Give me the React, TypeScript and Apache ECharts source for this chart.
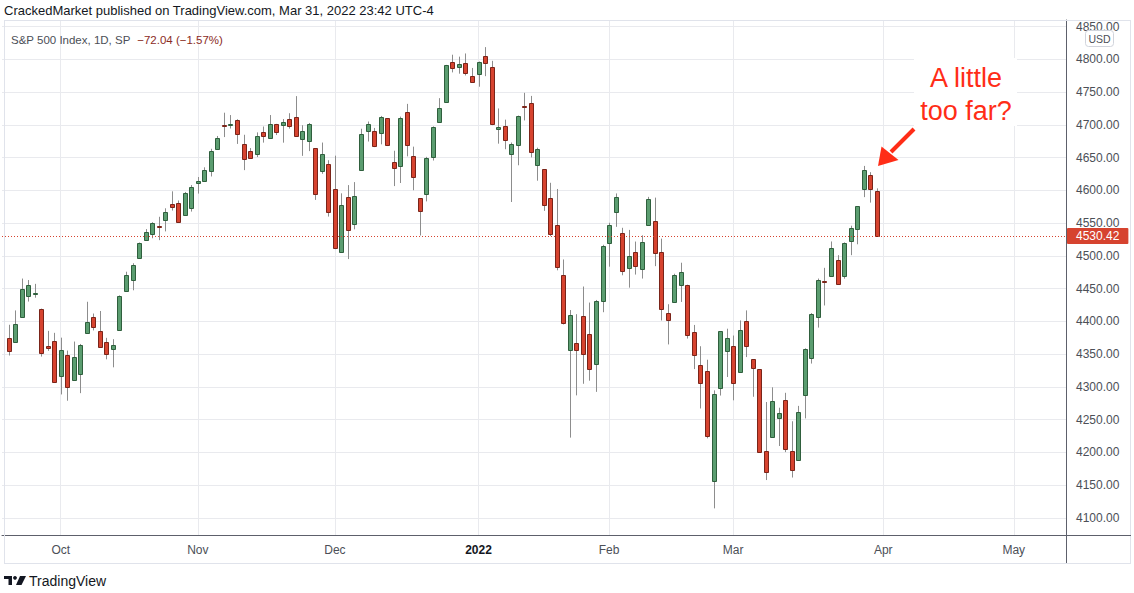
import React, { useEffect, useRef } from "react";
import * as echarts from "echarts";

// ---- Data (S&P 500 Index, daily) ----
const dates = [
  "2021-09-21","2021-09-22","2021-09-23","2021-09-24","2021-09-27","2021-09-28","2021-09-29","2021-09-30",
  "2021-10-01","2021-10-04","2021-10-05","2021-10-06","2021-10-07","2021-10-08","2021-10-11","2021-10-12","2021-10-13","2021-10-14","2021-10-15","2021-10-18","2021-10-19","2021-10-20","2021-10-21","2021-10-22","2021-10-25","2021-10-26","2021-10-27","2021-10-28","2021-10-29",
  "2021-11-01","2021-11-02","2021-11-03","2021-11-04","2021-11-05","2021-11-08","2021-11-09","2021-11-10","2021-11-11","2021-11-12","2021-11-15","2021-11-16","2021-11-17","2021-11-18","2021-11-19","2021-11-22","2021-11-23","2021-11-24","2021-11-26","2021-11-29","2021-11-30",
  "2021-12-01","2021-12-02","2021-12-03","2021-12-06","2021-12-07","2021-12-08","2021-12-09","2021-12-10","2021-12-13","2021-12-14","2021-12-15","2021-12-16","2021-12-17","2021-12-20","2021-12-21","2021-12-22","2021-12-23","2021-12-27","2021-12-28","2021-12-29","2021-12-30","2021-12-31",
  "2022-01-03","2022-01-04","2022-01-05","2022-01-06","2022-01-07","2022-01-10","2022-01-11","2022-01-12","2022-01-13","2022-01-14","2022-01-18","2022-01-19","2022-01-20","2022-01-21","2022-01-24","2022-01-25","2022-01-26","2022-01-27","2022-01-28","2022-01-31",
  "2022-02-01","2022-02-02","2022-02-03","2022-02-04","2022-02-07","2022-02-08","2022-02-09","2022-02-10","2022-02-11","2022-02-14","2022-02-15","2022-02-16","2022-02-17","2022-02-18","2022-02-22","2022-02-23","2022-02-24","2022-02-25","2022-02-28",
  "2022-03-01","2022-03-02","2022-03-03","2022-03-04","2022-03-07","2022-03-08","2022-03-09","2022-03-10","2022-03-11","2022-03-14","2022-03-15","2022-03-16","2022-03-17","2022-03-18","2022-03-21","2022-03-22","2022-03-23","2022-03-24","2022-03-25","2022-03-28","2022-03-29","2022-03-30","2022-03-31",
];

const opens = [
  4374.45,4367.43,4406.75,4438.04,4442.12,4419.54,4362.41,4370.67,
  4317.16,4348.84,4309.87,4319.57,4383.73,4406.51,4385.44,4368.31,4358.01,4386.75,4447.69,4463.72,4497.34,4524.42,4532.24,4546.12,4553.69,4578.69,4580.22,4562.84,4572.87,
  4610.62,4613.34,4630.65,4662.93,4699.26,4701.48,4707.25,4670.26,4659.39,4655.24,4689.30,4679.42,4701.50,4700.72,4708.44,4712.00,4678.48,4675.78,4664.63,4628.75,4640.25,
  4602.82,4504.73,4589.49,4548.37,4631.97,4690.86,4691.00,4687.64,4710.30,4642.99,4636.46,4719.13,4652.50,4587.90,4594.96,4650.36,4703.96,4733.99,4795.49,4788.64,4794.23,4775.21,
  4778.14,4804.51,4787.99,4693.39,4697.66,4655.34,4669.14,4728.59,4733.56,4637.99,4632.24,4588.03,4547.35,4471.38,4356.32,4366.64,4408.43,4380.58,4336.19,4431.79,
  4519.57,4566.39,4535.41,4482.79,4505.75,4480.02,4547.00,4553.24,4506.27,4412.61,4429.28,4455.75,4456.06,4384.57,4332.74,4324.93,4155.77,4298.38,4354.17,
  4363.14,4322.56,4401.31,4342.12,4327.01,4202.66,4223.10,4252.55,4279.50,4202.75,4188.82,4288.14,4345.11,4407.34,4462.40,4469.10,4493.10,4469.98,4522.91,4541.09,4602.86,4624.20,4599.02,
];

const highs = [
  4394.87,4416.75,4465.40,4463.12,4457.30,4419.54,4385.57,4382.55,
  4375.19,4355.51,4369.23,4365.57,4429.97,4412.02,4415.88,4374.89,4372.87,4439.73,4475.82,4488.75,4520.40,4540.87,4551.44,4559.67,4572.62,4598.53,4584.57,4597.55,4608.08,
  4620.34,4635.15,4663.46,4683.00,4718.50,4714.92,4708.53,4684.85,4664.55,4688.47,4697.42,4714.95,4701.50,4708.80,4717.75,4743.83,4699.39,4702.87,4664.63,4672.95,4646.02,
  4652.94,4595.46,4608.03,4612.60,4694.04,4705.06,4695.26,4713.57,4710.30,4660.47,4712.60,4731.99,4666.70,4587.90,4651.14,4697.67,4740.74,4791.49,4807.02,4804.06,4808.93,4786.83,
  4796.64,4818.62,4797.70,4725.01,4707.95,4673.02,4714.13,4748.83,4744.13,4665.13,4632.24,4611.55,4602.11,4494.52,4417.35,4411.01,4453.23,4428.74,4432.72,4516.89,
  4550.49,4595.31,4542.88,4539.66,4521.86,4531.32,4590.03,4588.92,4526.33,4426.22,4472.77,4489.55,4456.06,4394.60,4362.12,4341.51,4294.73,4385.34,4388.84,
  4378.45,4401.48,4416.78,4342.12,4327.01,4276.94,4299.40,4268.28,4291.01,4247.57,4271.05,4358.90,4412.67,4465.40,4481.75,4522.00,4501.07,4520.58,4546.03,4575.65,4637.30,4627.77,4603.07,
];

const lows = [
  4347.96,4367.43,4406.75,4430.27,4436.19,4346.33,4355.08,4306.24,
  4288.52,4278.94,4309.87,4290.49,4383.73,4386.22,4360.59,4342.09,4329.92,4386.75,4447.69,4447.47,4496.41,4524.40,4526.89,4524.00,4537.36,4569.17,4551.66,4562.84,4567.59,
  4595.06,4613.34,4621.19,4662.59,4681.32,4694.39,4670.87,4630.86,4648.31,4650.77,4672.86,4679.42,4684.41,4672.78,4694.22,4682.17,4652.66,4659.89,4585.43,4625.26,4560.00,
  4510.27,4504.73,4495.12,4540.51,4631.97,4674.52,4665.98,4670.24,4667.60,4606.52,4611.22,4651.89,4600.22,4531.10,4583.16,4645.53,4703.96,4733.99,4780.04,4778.08,4775.33,4765.75,
  4758.17,4774.27,4699.44,4671.26,4662.74,4582.24,4638.27,4706.71,4650.29,4614.75,4568.70,4530.20,4477.95,4395.34,4222.62,4287.11,4304.80,4309.50,4292.46,4414.02,
  4483.53,4544.32,4470.39,4451.50,4471.47,4465.40,4547.00,4484.31,4401.41,4364.84,4429.28,4429.68,4373.81,4327.22,4267.11,4221.51,4114.65,4286.83,4315.12,
  4279.54,4322.56,4345.56,4284.98,4199.85,4157.87,4223.10,4209.80,4200.49,4161.72,4187.90,4251.99,4335.65,4390.57,4424.30,4469.10,4455.81,4465.17,4501.07,4517.69,4589.66,4581.32,4530.42,
];

const closes = [
  4354.19,4395.64,4448.98,4455.48,4443.11,4352.63,4359.46,4307.54,
  4357.04,4300.46,4345.72,4363.55,4399.76,4391.34,4361.19,4350.65,4363.80,4438.26,4471.37,4486.46,4519.63,4536.19,4549.78,4544.90,4566.48,4574.79,4551.68,4596.42,4605.38,
  4613.67,4630.65,4660.57,4680.06,4697.53,4701.70,4685.25,4646.71,4649.27,4682.85,4682.80,4700.90,4688.67,4704.54,4697.96,4682.94,4690.70,4701.46,4594.62,4655.27,4567.00,
  4513.04,4577.10,4538.43,4591.67,4686.75,4701.21,4667.45,4712.02,4668.97,4634.09,4709.85,4668.67,4620.64,4568.02,4649.23,4696.56,4725.79,4791.19,4786.35,4793.06,4778.73,4766.18,
  4796.56,4793.54,4700.58,4696.05,4677.03,4670.29,4713.07,4726.35,4659.03,4662.85,4577.11,4532.76,4482.73,4397.94,4410.13,4356.45,4349.93,4326.51,4431.85,4515.55,
  4546.54,4589.38,4477.44,4500.53,4483.87,4521.54,4587.18,4504.08,4418.64,4401.67,4471.07,4475.01,4380.26,4348.87,4304.76,4225.50,4288.70,4384.65,4373.94,
  4306.26,4386.54,4363.49,4328.87,4201.09,4170.70,4277.88,4259.52,4204.31,4173.11,4262.45,4357.86,4411.67,4463.12,4461.18,4511.61,4456.24,4520.16,4543.06,4575.52,4631.60,4602.45,4530.42,
];

// empty future trading sessions shown on the time axis
const futureDates = [
  "2022-04-01","2022-04-04","2022-04-05","2022-04-06","2022-04-07","2022-04-08","2022-04-11","2022-04-12","2022-04-13","2022-04-14",
  "2022-04-18","2022-04-19","2022-04-20","2022-04-21","2022-04-22","2022-04-25","2022-04-26","2022-04-27","2022-04-28","2022-04-29",
  "2022-05-02","2022-05-03","2022-05-04","2022-05-05","2022-05-06","2022-05-09","2022-05-10","2022-05-11","2022-05-12",
];

const monthLabels: Record<string, string> = {
  "2021-10": "Oct",
  "2021-11": "Nov",
  "2021-12": "Dec",
  "2022-01": "2022",
  "2022-02": "Feb",
  "2022-03": "Mar",
  "2022-04": "Apr",
  "2022-05": "May",
};

const yTicks = [4100, 4150, 4200, 4250, 4300, 4350, 4400, 4450, 4500, 4550, 4600, 4650, 4700, 4750, 4800, 4850];
const yMin = 4074;
const yMax = 4860;
const lastPrice = closes[closes.length - 1];

const headerText = "CrackedMarket published on TradingView.com, Mar 31, 2022 23:42 UTC-4";
const legendName = "S&P 500 Index, 1D, SP";
const legendChange = "\u221272.04 (\u22121.57%)";
const annotation = "A little\ntoo far?";

// ---- Styles ----
const FONT = "'Liberation Sans', Arial, sans-serif";
const UP_FILL = "#5b9d70";
const UP_STROKE = "#2f5f3d";
const DOWN_FILL = "#d6432f";
const DOWN_STROKE = "#7a2419";
const WICK = "#8d8d8d";
const GRID = "#e9eaee";
const AXIS = "#5d606b";
const ANNOT = "#ff2d17";

const categories = ["", ...dates, ...futureDates];

function isMonthStart(i: number): boolean {
  const d = categories[i];
  if (!d) return false;
  const m = d.slice(0, 7);
  if (!monthLabels[m]) return false;
  const prev = categories[i - 1];
  return !prev || prev.slice(0, 7) !== m;
}

export default function App() {
  const ref = useRef<HTMLDivElement>(null);

  useEffect(() => {
    if (!ref.current) return;
    const chart = echarts.init(ref.current, undefined, { renderer: "svg" });

    const seriesData = dates.map((d, i) => [categories.indexOf(d), opens[i], closes[i], lows[i], highs[i]]);

    const option: any = {
      animation: false,
      backgroundColor: "#ffffff",
      textStyle: { fontFamily: FONT },
      grid: { left: 2, right: 68, top: 20, bottom: 58 },
      xAxis: {
        type: "category",
        data: categories,
        boundaryGap: false,
        axisLine: { show: true, lineStyle: { color: AXIS, width: 1 } },
        axisTick: { show: false },
        axisLabel: {
          interval: (i: number) => isMonthStart(i),
          formatter: (v: string) => {
            const m = v ? v.slice(0, 7) : "";
            const lab = monthLabels[m] || "";
            if (lab === "2022") return "{y|2022}";
            return lab;
          },
          color: "#4c4f57",
          fontSize: 12,
          fontFamily: FONT,
          margin: 9,
          hideOverlap: false,
          rich: { y: { fontWeight: "bold", color: "#131722", fontSize: 12, fontFamily: FONT } },
        },
        splitLine: {
          show: true,
          interval: (i: number) => isMonthStart(i),
          lineStyle: { color: GRID, width: 1 },
        },
      },
      yAxis: {
        type: "value",
        position: "right",
        min: yMin,
        max: yMax,
        scale: true,
        axisLine: { show: true, lineStyle: { color: AXIS, width: 1 } },
        axisTick: { show: false, customValues: yTicks },
        axisLabel: {
          customValues: yTicks,
          formatter: (v: number) => v.toFixed(2),
          color: "#4c4f57",
          fontSize: 12,
          fontFamily: FONT,
          margin: 10,
        },
        splitLine: { show: true, lineStyle: { color: GRID, width: 1 } },
      },
      series: [
        {
          type: "custom",
          name: "SPX",
          encode: { x: 0, y: [1, 2, 3, 4] },
          data: seriesData,
          renderItem: (params: any, api: any) => {
            const xi = api.value(0);
            const o = api.value(1);
            const c = api.value(2);
            const l = api.value(3);
            const h = api.value(4);
            const pO = api.coord([xi, o]);
            const pC = api.coord([xi, c]);
            const pL = api.coord([xi, l]);
            const pH = api.coord([xi, h]);
            const x = Math.round(pO[0]) + 0.5;
            const up = c >= o;
            const top = Math.round(Math.min(pO[1], pC[1])) + 0.5;
            const bh = Math.max(Math.round(Math.abs(pO[1] - pC[1])), 1);
            return {
              type: "group",
              children: [
                {
                  type: "line",
                  shape: { x1: x, y1: pH[1], x2: x, y2: pL[1] },
                  style: { stroke: WICK, lineWidth: 1 },
                },
                {
                  type: "rect",
                  shape: { x: x - 2, y: top, width: 4, height: bh },
                  style: {
                    fill: up ? UP_FILL : DOWN_FILL,
                    stroke: up ? UP_STROKE : DOWN_STROKE,
                    lineWidth: 1,
                  },
                },
              ],
            };
          },
          markLine: {
            silent: true,
            symbol: ["none", "none"],
            lineStyle: { color: DOWN_FILL, type: [1, 2], width: 1 },
            label: {
              show: true,
              position: "end",
              distance: 1,
              formatter: (p: any) => Number(p.value).toFixed(2),
              color: "#ffffff",
              backgroundColor: DOWN_FILL,
              padding: [2, 9, 2, 9],
              fontSize: 12,
              fontFamily: FONT,
              borderRadius: 1,
            },
            data: [{ yAxis: lastPrice }],
          },
        },
      ],
      graphic: [
        // cover above top border for the right scale (clips the top label like the original)
        { type: "rect", z: 100, shape: { x: 1067, y: 0, width: 67, height: 20 }, style: { fill: "#ffffff" } },
        // frame
        { type: "line", z: 101, shape: { x1: 4, y1: 20.5, x2: 1131, y2: 20.5 }, style: { stroke: "#e0e3eb", lineWidth: 1 } },
        { type: "line", z: 101, shape: { x1: 4, y1: 563.5, x2: 1131, y2: 563.5 }, style: { stroke: "#e0e3eb", lineWidth: 1 } },
        { type: "line", z: 101, shape: { x1: 4.5, y1: 20, x2: 4.5, y2: 563 }, style: { stroke: "#e0e3eb", lineWidth: 1 } },
        { type: "line", z: 101, shape: { x1: 1130.5, y1: 20, x2: 1130.5, y2: 563 }, style: { stroke: "#e0e3eb", lineWidth: 1 } },
        // axis line extensions
        { type: "line", z: 101, shape: { x1: 1066.5, y1: 535, x2: 1066.5, y2: 563 }, style: { stroke: AXIS, lineWidth: 1 } },
        { type: "line", z: 101, shape: { x1: 1066, y1: 535.5, x2: 1131, y2: 535.5 }, style: { stroke: AXIS, lineWidth: 1 } },
        // header
        {
          type: "text", z: 102,
          style: { x: 4, y: 10, text: headerText, fill: "#131722", fontSize: 13, fontFamily: FONT, verticalAlign: "middle", align: "left" },
        },
        // legend
        {
          type: "text", z: 102,
          style: {
            x: 11, y: 40,
            text: "{a|" + legendName + "}  {b|" + legendChange + "}",
            fontFamily: FONT, verticalAlign: "middle", align: "left",
            rich: {
              a: { fill: "#4c4f57", fontSize: 11.5, fontFamily: FONT },
              b: { fill: "#8b2b1e", fontSize: 11.5, fontFamily: FONT },
            },
          },
        },
        // USD badge
        {
          type: "rect", z: 102,
          shape: { x: 1085.5, y: 30.5, width: 28, height: 16, r: 3 },
          style: { fill: "#ffffff", stroke: "#d1d4dc", lineWidth: 1 },
        },
        {
          type: "text", z: 103,
          style: { x: 1099.5, y: 38.5, text: "USD", fill: "#4c4f57", fontSize: 10.5, fontFamily: FONT, verticalAlign: "middle", align: "center" },
        },
        // annotation
        { type: "rect", z: 104, shape: { x: 914, y: 58, width: 103, height: 68 }, style: { fill: "#ffffff" } },
        {
          type: "text", z: 105,
          style: {
            x: 966, y: 94, text: annotation, fill: ANNOT, fontSize: 27, fontFamily: FONT,
            align: "center", verticalAlign: "middle", lineHeight: 33,
          },
        },
        { type: "line", z: 105, shape: { x1: 914, y1: 129, x2: 891, y2: 152 }, style: { stroke: ANNOT, lineWidth: 4, lineCap: "butt" } },
        {
          type: "polygon", z: 105,
          shape: { points: [[878, 166], [881.5, 146.5], [898.5, 160]] },
          style: { fill: ANNOT },
        },
        // TradingView logo
        { type: "rect", z: 102, shape: { x: 4, y: 576, width: 8, height: 3 }, style: { fill: "#131722" } },
        { type: "rect", z: 102, shape: { x: 8.5, y: 576, width: 3.5, height: 9 }, style: { fill: "#131722" } },
        { type: "circle", z: 102, shape: { cx: 15, cy: 577.8, r: 1.9 }, style: { fill: "#131722" } },
        { type: "polygon", z: 102, shape: { points: [[20, 576], [26, 576], [21.5, 585], [16, 585]] }, style: { fill: "#131722" } },
        {
          type: "text", z: 102,
          style: { x: 29, y: 580.5, text: "TradingView", fill: "#131722", fontSize: 14, fontFamily: FONT, verticalAlign: "middle", align: "left" },
        },
      ],
    };

    chart.setOption(option);
    return () => chart.dispose();
  }, []);

  return (
    <div
      ref={ref}
      style={{ position: "absolute", left: 0, top: 0, width: 1134, height: 593, background: "#ffffff" }}
    />
  );
}
